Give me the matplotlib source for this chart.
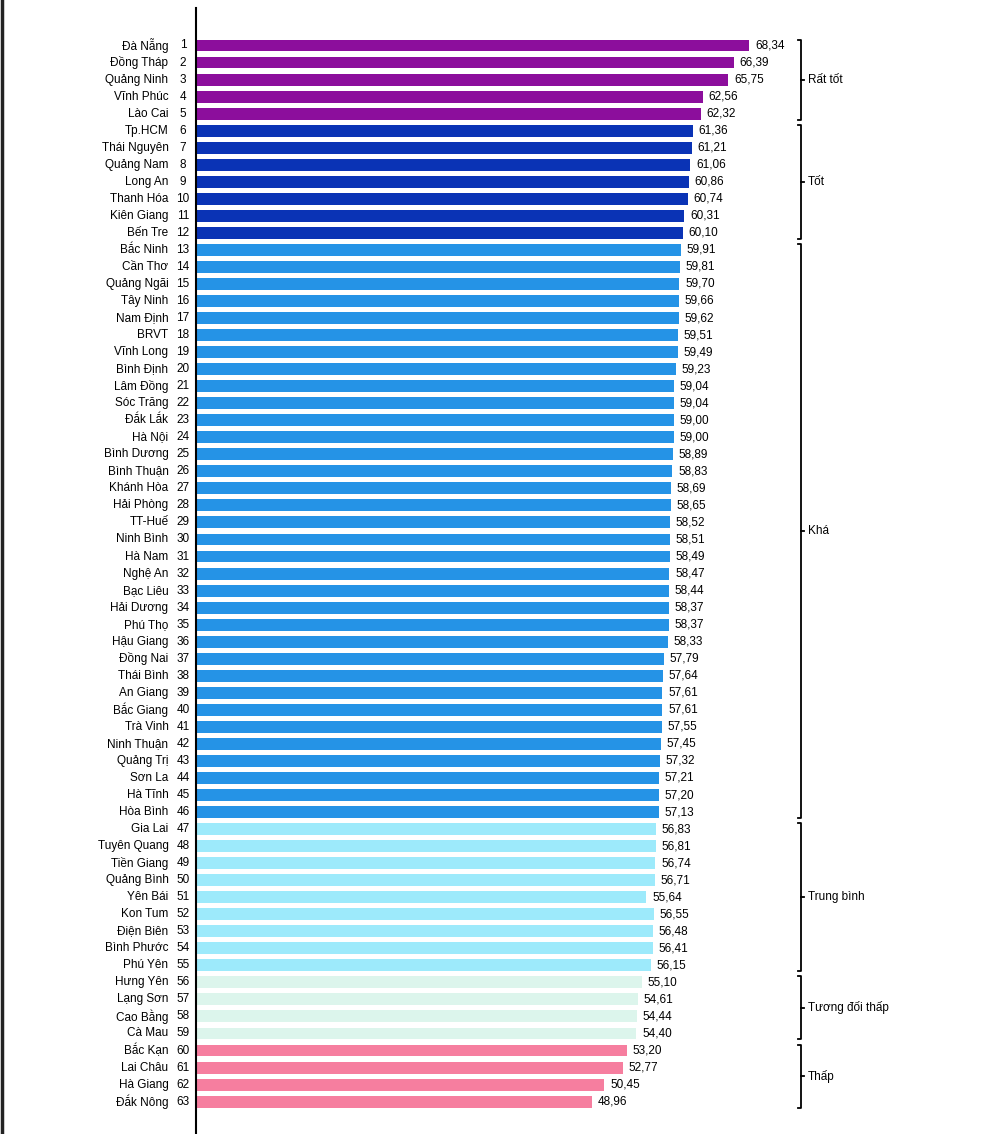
import matplotlib
matplotlib.use("Agg")
import matplotlib.pyplot as plt

plt.rcParams['font.family'] = ['Liberation Sans', 'DejaVu Sans']

tinh = ["Đà Nẵng", "Đồng Tháp", "Quảng Ninh", "Vĩnh Phúc", "Lào Cai",
        "Tp.HCM", "Thái Nguyên", "Quảng Nam", "Long An", "Thanh Hóa", "Kiên Giang", "Bến Tre",
        "Bắc Ninh", "Cần Thơ", "Quảng Ngãi", "Tây Ninh", "Nam Định", "BRVT", "Vĩnh Long",
        "Bình Định", "Lâm Đồng", "Sóc Trăng", "Đắk Lắk", "Hà Nội", "Bình Dương", "Bình Thuận",
        "Khánh Hòa", "Hải Phòng", "TT-Huế", "Ninh Bình", "Hà Nam", "Nghệ An", "Bạc Liêu",
        "Hải Dương", "Phú Thọ", "Hậu Giang", "Đồng Nai", "Thái Bình", "An Giang", "Bắc Giang",
        "Trà Vinh", "Ninh Thuận", "Quảng Trị", "Sơn La", "Hà Tĩnh", "Hòa Bình",
        "Gia Lai", "Tuyên Quang", "Tiền Giang", "Quảng Bình", "Yên Bái", "Kon Tum",
        "Điện Biên", "Bình Phước", "Phú Yên",
        "Hưng Yên", "Lạng Sơn", "Cao Bằng", "Cà Mau",
        "Bắc Kạn", "Lai Châu", "Hà Giang", "Đắk Nông"]

diem = [68.34, 66.39, 65.75, 62.56, 62.32,
        61.36, 61.21, 61.06, 60.86, 60.74, 60.31, 60.10,
        59.91, 59.81, 59.70, 59.66, 59.62, 59.51, 59.49, 59.23, 59.04, 59.04,
        59.00, 59.00, 58.89, 58.83, 58.69, 58.65, 58.52, 58.51, 58.49, 58.47,
        58.44, 58.37, 58.37, 58.33, 57.79, 57.64, 57.61, 57.61, 57.55, 57.45,
        57.32, 57.21, 57.20, 57.13,
        56.83, 56.81, 56.74, 56.71, 55.64, 56.55, 56.48, 56.41, 56.15,
        55.10, 54.61, 54.44, 54.40,
        53.20, 52.77, 50.45, 48.96]

nhom = ["Rất tốt", "Tốt", "Khá", "Trung bình", "Tương đối thấp", "Thấp"]
so_tinh = [5, 7, 34, 9, 4, 4]
mau_nhom = ["#8c0e9c", "#0a33b5", "#2593e6", "#9deafb", "#dcf5ec", "#f67e9f"]

# mau cho tung thanh theo nhom
mau = []
for m, n in zip(mau_nhom, so_tinh):
    mau += [m] * n

y = list(range(len(tinh)))

fig = plt.figure(figsize=(10, 11.34), dpi=100)
ax = fig.add_axes([0.196, 0, 0.804, 1 - 8 / 1134])

ax.barh(y, diem, height=0.7, color=mau)

ax.set_xlim(0, 99.3)
ax.set_ylim(len(tinh) - 1 + 1.9, -2.2)

for i, (t, v) in enumerate(zip(tinh, diem)):
    ax.text(-3.4, i, t, ha='right', va='center', fontsize=8.5, clip_on=False)
    ax.text(-1.6, i, str(i + 1), ha='center', va='center', fontsize=8.5, clip_on=False)
    ax.text(v + 0.7, i, f"{v:.2f}".replace('.', ','), ha='left', va='center', fontsize=8.5)

# ngoac nhom
xb = 74.7
start = 0
for ten, n in zip(nhom, so_tinh):
    top = start - 0.35
    bot = start + n - 1 + 0.35
    mid = (top + bot) / 2
    ax.plot([xb - 0.35, xb, xb, xb - 0.35], [top, top, bot, bot], color='black', lw=1.3)
    ax.plot([xb, xb + 0.35], [mid, mid], color='black', lw=1.3)
    ax.text(xb + 0.9, mid, ten, ha='left', va='center', fontsize=8.5)
    start += n

for s in ['top', 'right', 'bottom']:
    ax.spines[s].set_visible(False)
ax.spines['left'].set_linewidth(1.5)
ax.set_xticks([])
ax.set_yticks([])

# vien den ben trai
fig.add_artist(plt.Line2D([0.0015, 0.0015], [0, 1], color='#222222', lw=2.5))

fig.savefig("out.png", dpi=100, facecolor='white')
